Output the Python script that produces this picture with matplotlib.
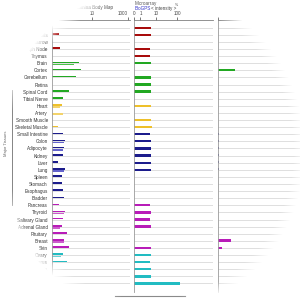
import matplotlib
matplotlib.use("Agg")
import matplotlib.pyplot as plt
from matplotlib.lines import Line2D
import numpy as np

nan = np.nan

tissues = ["Whole Blood", "White Blood Cells", "Bone Marrow", "Lymph Node", "Thymus",
           "Brain", "Cortex", "Cerebellum", "Retina", "Spinal Cord", "Tibial Nerve",
           "Heart", "Artery", "Smooth Muscle", "Skeletal Muscle",
           "Small Intestine", "Colon", "Adipocyte", "Kidney", "Liver", "Lung", "Spleen",
           "Stomach", "Esophagus", "Bladder",
           "Pancreas", "Thyroid", "Salivary Gland", "Adrenal Gland", "Pituitary", "Breast", "Skin",
           "Ovary", "Uterus", "Placenta", "Cervix", "Testis"]
groups = (["blood"] * 5 + ["nerve"] * 6 + ["muscle"] * 4 + ["internal"] * 10
          + ["secretory"] * 7 + ["reproductive"] * 5)

# RNA-seq (two datasets), microarray and SAGE values per tissue
rnaseq_a = [nan, 0.15, nan, 0.17, nan, 1.9, 2.45, 1.3, nan, 0.52, 0.24,
            0.22, nan, nan, 0.13,
            0.24, 0.32, 0.28, 0.24, 0.13, 0.32, 0.22, 0.22, 0.24, 0.28,
            0.15, 0.32, 0.24, 0.22, 0.41, 0.28, 0.53,
            0.24, 0.41, nan, nan, nan]
rnaseq_b = [nan, nan, nan, nan, nan, 1.0, nan, nan, nan, nan, nan,
            0.17, 0.24, nan, nan,
            nan, 0.28, 0.24, nan, nan, 0.28, nan, nan, nan, nan,
            nan, 0.28, nan, 0.17, nan, 0.28, nan,
            0.2, nan, nan, nan, nan]
microarray = [5.2, 5.0, nan, 4.8, 4.6, 5.0, nan, 5.5, 5.3, 5.0, nan,
              5.4, nan, 5.0, 5.6,
              4.8, 5.0, 5.0, 4.9, 5.0, 5.2, nan, nan, nan, nan,
              4.6, 5.0, 4.8, 5.0, nan, nan, 5.1,
              4.9, 4.8, 5.0, 5.2, 137]
sage = [nan, nan, nan, nan, nan, nan, 20.7, nan, nan, nan, nan,
        nan, nan, nan, nan,
        1.0, 1.0, 1.0, 1.0, 1.0, 1.0, nan, nan, nan, nan,
        nan, nan, nan, nan, nan, 15.9, 4.9,
        nan, nan, nan, nan, nan]

dark = {"blood": "#a80c0c", "nerve": "#22a822", "muscle": "#eec02a",
        "internal": "#1c1c8c", "secretory": "#b81cb8", "reproductive": "#22bcc2"}
light = {"blood": "#c84040", "nerve": "#4cc24c", "muscle": "#f3d36a",
         "internal": "#6464cc", "secretory": "#cc5ccc", "reproductive": "#6ad2d6"}

n = len(tissues)
rows = np.arange(n)
ylim = (37.2, -1.08)

fig = plt.figure(figsize=(3, 3), dpi=100)
plt.rcParams['font.family'] = ['Liberation Sans', 'DejaVu Sans']
fs = 3.3


def px(x0, x1):
    return [x0 / 300, 1 - 292 / 300, (x1 - x0) / 300, 272 / 300]


def style(ax):
    for s in ["right", "bottom"]:
        ax.spines[s].set_visible(False)
    ax.spines["left"].set_color("#9a9a9a")
    ax.spines["top"].set_color("#808080")
    ax.spines["left"].set_linewidth(0.6)
    ax.spines["top"].set_linewidth(0.6)
    ax.set_ylim(*ylim)
    ax.xaxis.tick_top()
    ax.tick_params(axis="x", direction="out", length=2, width=0.5, pad=1,
                   labelsize=fs, colors="#444444")
    ax.tick_params(axis="x", which="minor", length=0)
    ax.tick_params(axis="y", length=0)
    ax.hlines(rows, *ax.get_xlim(), color="#d9d9d9", lw=0.6, zorder=1)


# RNA-seq panel
ax1 = fig.add_axes(px(52, 130))
ax1.set_xscale("log")
ax1.set_xlim(0.06, 1300)
base = 0.06
for i in rows:
    g = groups[i]
    if not np.isnan(rnaseq_a[i]):
        ax1.barh(i - 0.12, rnaseq_a[i] - base, left=base, height=0.22,
                 color=dark[g], zorder=2)
    if not np.isnan(rnaseq_b[i]):
        ax1.barh(i + 0.18, rnaseq_b[i] - base, left=base, height=0.22,
                 color=light[g], zorder=2)
style(ax1)
ax1.set_xticks([10, 1000], ["10", "1000"])
ax1.get_xticklabels()[-1].set_horizontalalignment("right")
ax1.set_yticks(rows, tissues, fontsize=fs, color="#333333")
ax1.tick_params(axis="y", pad=3)

# Microarray panel
ax2 = fig.add_axes(px(134, 213))
ax2.set_xscale("function", functions=(lambda x: np.log10(1 + np.clip(x, 0, None)),
                                      lambda y: 10 ** y - 1))
ax2.set_xlim(0, 4700)
for i in rows:
    if not np.isnan(microarray[i]):
        ax2.barh(i, microarray[i], height=0.32, color=dark[groups[i]], zorder=2)
style(ax2)
ax2.set_xticks([0, 1, 10, 100], ["0", "1", "10", "100"])
ax2.set_yticks([])

# SAGE panel
ax3 = fig.add_axes(px(218, 300))
ax3.set_xlim(0, 100)
for i in rows:
    if not np.isnan(sage[i]):
        ax3.barh(i - 0.05, sage[i], height=0.3, color=dark[groups[i]], zorder=2)
style(ax3)
ax3.set_xticks([0], [""])
ax3.set_yticks([])


def ftext(x, y, s, size=fs, **kw):
    fig.text(x / 300, 1 - y / 300, s, fontsize=size, va="center", **kw)


ftext(113, 7, "Illumina Body Map", ha="right", color="#444444")
ftext(135, 3, "Microarray", ha="left", color="#555555")
ftext(135, 8.5, "BioGPS", ha="left", color="#3535c8")
ftext(151, 8.5, "< intensity >", ha="left", color="#444444")
ftext(175, 5.5, "%", size=2.6, ha="left", color="#444444")
fig.text(6 / 300, 1 - 143 / 300, "Major Tissues", rotation=90, fontsize=3.0,
         ha="center", va="center", color="#333333")
fig.add_artist(Line2D([12 / 300, 12 / 300], [1 - 90 / 300, 1 - 205 / 300],
                      color="#707070", lw=0.6))
fig.add_artist(Line2D([115 / 300, 185 / 300], [1 - 296 / 300, 1 - 296 / 300],
                      color="#8a8a8a", lw=0.8))

# white fade towards the edges of the picture
ov = fig.add_axes([0, 0, 1, 1], zorder=20)
yy, xx = np.mgrid[0:300, 0:300]
d = np.hypot(xx - 150, (yy - 150) * 0.96)
img = np.ones((300, 300, 4))
img[..., 3] = np.clip((d - 143) / 12, 0, 1)
ov.imshow(img, aspect="auto", interpolation="bilinear")
ov.set_axis_off()

fig.savefig("out.png", dpi=100)
